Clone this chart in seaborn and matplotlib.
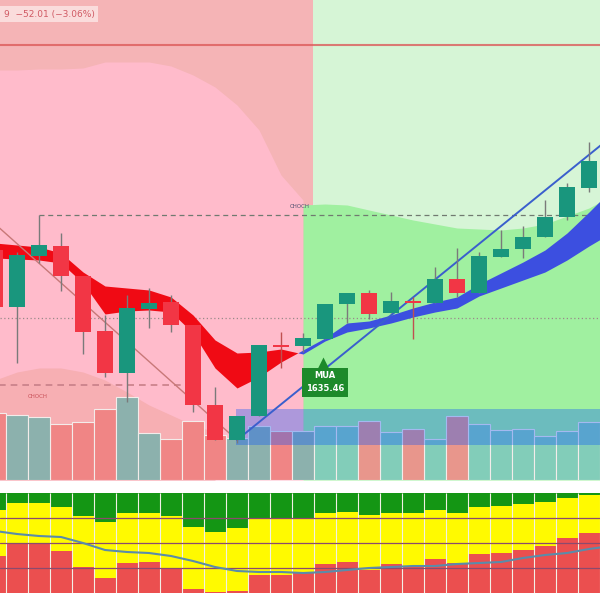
import numpy as np
import pandas as pd
import matplotlib
matplotlib.use("Agg")
import matplotlib.pyplot as plt
import seaborn as sns

sns.set_theme(style="white")
plt.rcParams['font.family'] = ['DejaVu Sans']

# ---------------- data ----------------
candle_idx = list(range(28))
open_ = [1740, 1683, 1734, 1744, 1714, 1659, 1617, 1681, 1688, 1665, 1585, 1550, 1574, 1645,
         1644, 1651, 1686, 1697, 1677, 1689, 1687, 1711, 1697, 1733, 1741, 1753, 1773, 1802]
high = [1742, 1738, 1775, 1757, 1714, 1675, 1695, 1702, 1695, 1665, 1603, 1574, 1645, 1658,
        1657, 1686, 1697, 1700, 1698, 1693, 1723, 1742, 1738, 1760, 1764, 1790, 1807, 1848]
low = [1680, 1627, 1727, 1699, 1636, 1613, 1588, 1662, 1658, 1578, 1550, 1547, 1574, 1622,
       1638, 1651, 1667, 1671, 1677, 1651, 1687, 1693, 1697, 1733, 1732, 1753, 1770, 1798]
close = [1683, 1735, 1745, 1714, 1658, 1617, 1682, 1687, 1665, 1585, 1550, 1574, 1645, 1643,
         1652, 1686, 1697, 1676, 1689, 1687, 1711, 1697, 1734, 1741, 1753, 1773, 1803, 1829]
volume = [670, 650, 630, 560, 580, 710, 830, 470, 410, 590, 450, 420, 540, 490,
          490, 540, 540, 590, 480, 510, 410, 640, 560, 500, 510, 440, 490, 580]

ema_idx = list(range(29))
ema_fast = [1732, 1731, 1730, 1727, 1707, 1676, 1679, 1680, 1678, 1657, 1622, 1602, 1613, 1628,
            1640, 1652, 1667, 1669, 1675, 1682, 1688, 1693, 1706, 1717, 1728, 1740, 1757, 1778, 1800]
ema_slow = [1747, 1745, 1743, 1737, 1718, 1704, 1702, 1700, 1693, 1675, 1650, 1637, 1638, 1641,
            1636, 1649, 1658, 1662, 1667, 1673, 1678, 1682, 1694, 1702, 1710, 1718, 1730, 1744, 1757]

premium_idx = list(range(15))
premium_edge = [1920, 1920, 1921, 1921, 1922, 1928, 1928, 1928, 1924, 1915, 1903, 1885, 1860, 1815, 1790]
bull_idx = list(range(14, 29))
bull_edge = [1785, 1786, 1785, 1780, 1775, 1770, 1766, 1762, 1761, 1760, 1762, 1766, 1774, 1782, 1794]
discount_idx = list(range(11))
discount_edge = [1610, 1618, 1622, 1622, 1618, 1610, 1598, 1585, 1575, 1565, 1558]

top_level = 1945
choch_level = 1775
choch_low_level = 1605
mid_level = 1672
down_trend = ([0, 11], [1766, 1550])
up_trend = ([11, 28], [1550, 1853])
buy_price = "1635.46"

osc_bull = [17, 10, 10, 14, 23, 29, 20, 20, 23, 34, 39, 35, 25, 25, 25, 20, 19, 22, 20, 20,
            17, 20, 14, 13, 11, 9, 5, 2]
osc_bear = [37, 49, 50, 42, 26, 15, 30, 31, 25, 4, 1, 2, 18, 18, 20, 29, 31, 23, 29, 27,
            34, 30, 39, 40, 43, 47, 55, 60]
osc_idx = list(range(29))
osc_avg = [62, 59, 57, 56, 50, 43, 41, 40, 37, 32, 26, 22, 21, 21, 20, 21, 23, 25, 26, 27,
           27, 29, 30, 31, 35, 38, 40, 44, 47]

# ---------------- colours ----------------
C_UP = '#19967D'
C_DN = '#F23645'
XMIN, XMAX = 0.227, 27.5
YMIN, YMAX = 1510, 1990

fig = plt.figure(figsize=(6, 6), dpi=100)
rect_top = [0, 0.2, 1, 0.8]
ax_bg = fig.add_axes(rect_top)
ax_vol = fig.add_axes(rect_top, sharex=ax_bg)
ax = fig.add_axes(rect_top, sharex=ax_bg, sharey=ax_bg)
ax_osc = fig.add_axes([0, 7 / 600, 1, 100 / 600], sharex=ax_bg)
ax_bg.set_zorder(0)
ax_vol.set_zorder(1)
ax.set_zorder(2)

# ---- background zones ----
ax_bg.axvspan(-1, 14.45, color='#F5B4B6', lw=0, zorder=0)
ax_bg.axvspan(14.45, 29, color='#D6F5D6', lw=0, zorder=0)
ax_bg.fill_between(premium_idx, premium_edge, YMIN, color='#FFBBCB', lw=0, zorder=1)
ax_bg.fill_between(bull_idx, bull_edge, YMIN, color='#A0F0A0', lw=0, zorder=1)
ax_bg.fill_between(discount_idx, discount_edge, YMIN, color='#F7AFB3', lw=0, zorder=2)

# ---- volume ----
vol_df = pd.DataFrame({
    'idx': candle_idx,
    'vol': volume,
    'grp': [('up' if c >= o else 'dn') + ('_L' if i <= 14 else '_R')
            for i, (o, c) in enumerate(zip(open_, close))],
})
sns.barplot(data=vol_df, x='idx', y='vol', hue='grp', native_scale=True, dodge=False,
            width=1.0, saturation=1, errorbar=None, legend=False, ax=ax_vol,
            palette={'up_L': '#8CB1AD', 'dn_L': '#F08585', 'up_R': '#82CDB9', 'dn_R': '#E8968C'},
            linewidth=0.8, edgecolor='#F3ECEA')
ax_vol.set_ylim(0, 4800)

# ---- main overlays ----
ax.axhline(top_level, color='#DC5A5A', lw=1.5, alpha=0.8, zorder=1)
ax.axhline(mid_level, color='#9A8A8A', lw=0.9, ls=(0, (1, 2)), zorder=1)
ax.hlines(choch_level, 2, 29, color='#707A70', lw=0.9, ls=(0, (4, 3)), zorder=1)
ax.hlines(choch_low_level, -1, 8.55, color='#C88088', lw=1.2, ls=(0, (4, 3)), zorder=1)
ax.text(13.86, choch_level + 9, 'CHOCH', fontsize=4, color='#505070', ha='center', va='center', zorder=2)
ax.text(1.95, choch_low_level - 11, 'CHOCH', fontsize=4, color='#C85058', ha='center', va='center', zorder=2)

# translucent box over the volume area
ax.fill_between([10.95, 29], 1545, 1581, color=(0, 0.31, 1.0), alpha=0.32, lw=0, zorder=1)

# EMA ribbon
fast = np.array(ema_fast)
slow = np.array(ema_slow)
ax.fill_between(ema_idx, fast, slow, where=fast <= slow, interpolate=True,
                color='#F00A14', lw=0, zorder=2)
ax.fill_between(ema_idx, fast, slow, where=fast >= slow, interpolate=True,
                color='#3C4FE0', lw=0, zorder=2)

# trend lines
ax.plot(*down_trend, color='#C87878', lw=1.0, zorder=2.5)
ax.plot(*up_trend, color='#3A5FCD', lw=1.4, zorder=2.5)

# candles
for i in candle_idx:
    o, h, l, c = open_[i], high[i], low[i], close[i]
    col = C_UP if c > o else C_DN
    wcol = '#C05050' if abs(c - o) < 3 else '#7A7A7A'
    ax.vlines(i, l, h, color=wcol, lw=1.0, zorder=3)
    body = max(abs(c - o), 2)
    ax.bar(i, body, bottom=min(o, c), width=0.77, color=col, lw=0, zorder=4)

# buy label
ax.plot(14.92, 1627, marker='^', ms=8, color='#1D8A2A', mec='none', zorder=5)
ax.text(15.0, 1608, 'MUA\n' + buy_price, fontsize=6, fontweight='bold', color='white',
        ha='center', va='center', linespacing=1.5, zorder=6,
        bbox=dict(boxstyle='square,pad=0.45', fc='#1D8A2A', ec='none'))

# ---- oscillator ----
ax_osc.axhspan(0, 100, color='#FFFA00', lw=0, zorder=0)
bull = np.array(osc_bull)
ax_osc.bar(candle_idx, bull, bottom=100 - bull, width=1.0, color='#149614', lw=0, zorder=1)
ax_osc.bar(candle_idx, osc_bear, width=1.0, color='#EB4F4F', lw=0, zorder=1)
ax_osc.vlines(np.arange(-1, 29) + 0.5, 0, 100, color='#F2F0E6', lw=0.8, zorder=2)
for lv in (25, 50, 75):
    ax_osc.axhline(lv, color='#8C4A6E', lw=0.9, zorder=3)
sns.lineplot(x=osc_idx, y=osc_avg, color='#5A8CAA', lw=1.5, ax=ax_osc, zorder=4)
ax_osc.set_ylim(0, 100)

# ---- limits and cleanup ----
ax_bg.set_xlim(XMIN, XMAX)
ax_bg.set_ylim(YMIN, YMAX)
for a in (ax_bg, ax_vol, ax, ax_osc):
    a.set_axis_off()
ax_bg.set_xlim(XMIN, XMAX)

# header text
fig.text(0.006, 1 - 14 / 600, '9  \u221252.01 (\u22123.06%)', fontsize=6.5, color='#D05A64',
         ha='left', va='center',
         bbox=dict(boxstyle='square,pad=0.35', fc='#FADCDC', ec='none'))

fig.savefig('out.png', dpi=100, facecolor='white')
